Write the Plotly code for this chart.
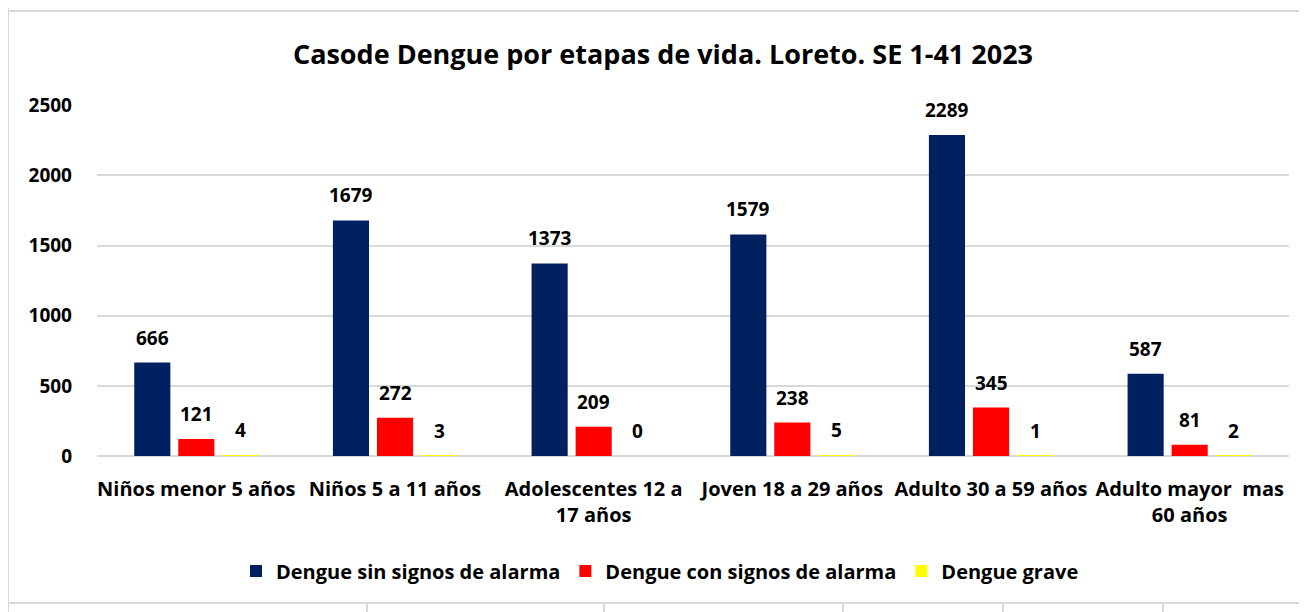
import plotly.graph_objects as go

categories = ["Niños menor 5 años", "Niños 5 a 11 años", "Adolescentes 12 a<br>17 años",
              "Joven 18 a 29 años", "Adulto 30 a 59 años", "Adulto mayor  mas<br>60 años"]
sin_signos = [666, 1679, 1373, 1579, 2289, 587]
con_signos = [121, 272, 209, 238, 345, 81]
grave = [4, 3, 0, 5, 1, 2]
series_names = ["Dengue sin signos de alarma", "Dengue con signos de alarma", "Dengue grave"]
colors = ["#002060", "#FF0000", "#FFFF00"]
y_ticks = [0, 500, 1000, 1500, 2000, 2500]

FONT = "Open Sans"
W, H = 1307, 612
OFF = 8  # page body margin offset of the rendered figure
L, R, T, B = 97 - OFF, W - (1289 - OFF), 105 - OFF, H - (456 - OFF)
pw, ph = W - L - R, H - T - B


def px(xp):
    return (xp - OFF - L) / pw


def py(yp):
    return (H - B - (yp - OFF)) / ph


fig = go.Figure()
series = [sin_signos, con_signos, grave]
for name, vals, col in zip(series_names, series, colors):
    fig.add_trace(go.Bar(x=categories, y=vals, name=f"<b>{name}</b>",
                         marker=dict(color=col, line=dict(width=0)), cliponaxis=False))

# data labels above each bar
offsets = [-44, 0, 44]
for vals, off in zip(series, offsets):
    for c, v in zip(categories, vals):
        fig.add_annotation(x=c, y=v, xref="x", yref="y", text=f"<b>{v}</b>", showarrow=False,
                           xshift=off, yshift=25, yanchor="middle",
                           font=dict(family=FONT, size=19, color="#000000"))

# spreadsheet frame lines (page pixel positions converted to paper coords)
line_col = "#d9d9d9"
frame = [
    (0, 11, 1307, 11),
    (8, 0, 8, 612),
    (8, 603, 1307, 603),
]
for xb in [367, 604, 843, 1003, 1163]:
    frame.append((xb, 603, xb, 612))
for x0, y0, x1, y1 in frame:
    fig.add_shape(type="line", xref="paper", yref="paper",
                  x0=px(x0), x1=px(x1), y0=py(y0), y1=py(y1),
                  line=dict(color=line_col, width=2), layer="below")

fig.update_layout(
    width=W, height=H,
    margin=dict(l=L, r=R, t=T, b=B, autoexpand=False),
    paper_bgcolor="white", plot_bgcolor="white",
    barmode="group", bargap=0.335, bargroupgap=0.18,
    title=dict(text="<b>Casode Dengue por etapas de vida. Loreto. SE 1-41 2023</b>",
               x=(663 - OFF) / W, xanchor="center", y=1 - (55 - OFF) / H, yanchor="middle",
               yref="container",
               font=dict(family=FONT, size=27, color="#000000")),
    font=dict(family=FONT, color="#000000"),
    legend=dict(orientation="h", x=px(660), xanchor="center",
                y=py(571), yanchor="middle",
                font=dict(family=FONT, size=20, color="#000000"),
                itemclick=False, traceorder="normal"),
    showlegend=True,
)
fig.update_xaxes(tickfont=dict(family=FONT, size=20, color="#000000"), showline=False,
                 ticks="", ticklabelstandoff=19, tickangle=0, automargin=False,
                 tickvals=categories, ticktext=[f"<b>{c}</b>" for c in categories])
fig.update_yaxes(range=[0, 2502], tickvals=y_ticks, ticktext=[f"<b>{t}</b>" for t in y_ticks],
                 tickfont=dict(family=FONT, size=19, color="#000000"),
                 showgrid=True, gridcolor=line_col, gridwidth=2, automargin=False,
                 zeroline=True, zerolinecolor=line_col, zerolinewidth=2,
                 ticklabelstandoff=24)

fig.write_html("out.html")
